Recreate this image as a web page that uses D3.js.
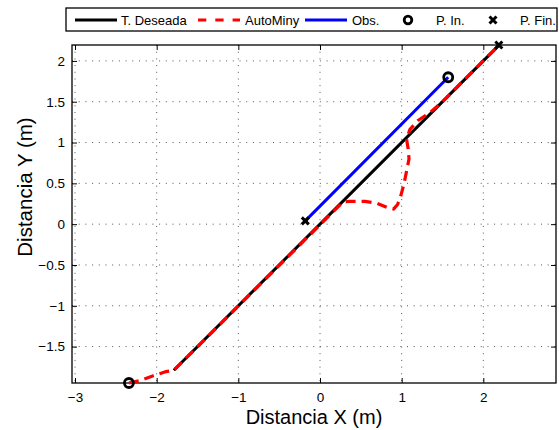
<!DOCTYPE html>
<html><head><meta charset="utf-8">
<script src="https://cdn.jsdelivr.net/npm/d3@7/dist/d3.min.js"></script>
<style>body{margin:0;background:#fff}svg{display:block;font-family:"Liberation Sans",Arial,sans-serif}</style>
</head><body><svg id="c" width="559" height="430"></svg>
<script>
// ---- data ----
const xTicks = [-3, -2, -1, 0, 1, 2];
const yTicks = [-1.5, -1, -0.5, 0, 0.5, 1, 1.5, 2];
const legendLabels = ["T. Deseada", "AutoMiny", "Obs.", "P. In.", "P. Fin."];
const desiredX = [-1.79, 2.19];
const desiredY = [-1.79, 2.19];
const obsX = [-0.18, 1.57];
const obsY = [0.04, 1.80];
const autoX = [-2.34,-2.22,-2.05,-1.90,-1.79,0.28,0.36,0.55,0.70,0.82,0.90,0.95,0.99,1.03,1.06,1.09,1.08,1.06,1.10,1.20,1.35,1.50,2.19];
const autoY = [-1.946,-1.92,-1.86,-1.81,-1.79,0.27,0.28,0.28,0.255,0.205,0.185,0.24,0.35,0.50,0.65,0.80,0.92,1.04,1.16,1.27,1.37,1.50,2.19];
const startPts = [[-2.34, -1.946], [1.57, 1.80]];
const endPts = [[2.19, 2.195], [-0.18, 0.04]];
const xDomain = [-3.037, 2.89];
const yDomain = [-1.946, 2.195];

// ---- layout ----
const L = 72, R = 556, T = 45, B = 383;
const svg = d3.select("#c");
const x = d3.scaleLinear().domain(xDomain).range([L, R]);
const y = d3.scaleLinear().domain(yDomain).range([B, T]);

// grid
const g = svg.append("g");
g.selectAll(".gx").data(xTicks).join("line")
  .attr("x1", d => x(d)).attr("x2", d => x(d)).attr("y1", T).attr("y2", B)
  .attr("stroke", "#555").attr("stroke-width", 1).attr("stroke-dasharray", "1,5.7");
g.selectAll(".gy").data(yTicks).join("line")
  .attr("y1", d => y(d)).attr("y2", d => y(d)).attr("x1", L).attr("x2", R)
  .attr("stroke", "#555").attr("stroke-width", 1).attr("stroke-dasharray", "1,5.7");

// axes (ticks inside)
const fmt = d3.format("");
const ax = svg.append("g").attr("transform", `translate(0,${B})`)
  .call(d3.axisBottom(x).tickValues(xTicks).tickFormat(fmt).tickSizeInner(-5).tickSizeOuter(0).tickPadding(9));
const axT = svg.append("g").attr("transform", `translate(0,${T})`)
  .call(d3.axisTop(x).tickValues(xTicks).tickFormat("").tickSizeInner(-5).tickSizeOuter(0));
const ay = svg.append("g").attr("transform", `translate(${L},0)`)
  .call(d3.axisLeft(y).tickValues(yTicks).tickFormat(fmt).tickSizeInner(-5).tickSizeOuter(0).tickPadding(7));
const ayR = svg.append("g").attr("transform", `translate(${R},0)`)
  .call(d3.axisRight(y).tickValues(yTicks).tickFormat("").tickSizeInner(-5).tickSizeOuter(0));
[ax, axT, ay, ayR].forEach(a => {
  a.select(".domain").remove();
  a.selectAll("text").attr("font-size", 13.5).attr("fill", "#000").attr("font-family", "Liberation Sans, Arial, sans-serif");
  a.selectAll("line").attr("stroke", "#000");
});
svg.append("rect").attr("x", L).attr("y", T).attr("width", R - L).attr("height", B - T)
  .attr("fill", "none").attr("stroke", "#000").attr("stroke-width", 1.3);

// lines
const line = d3.line().x(d => x(d[0])).y(d => y(d[1]));
const desired = desiredX.map((v, i) => [v, desiredY[i]]);
const obs = obsX.map((v, i) => [v, obsY[i]]);
const auto = autoX.map((v, i) => [v, autoY[i]]);
svg.append("path").attr("d", line(desired)).attr("fill", "none").attr("stroke", "#000").attr("stroke-width", 3);
svg.append("path").attr("d", line(obs)).attr("fill", "none").attr("stroke", "#0000ff").attr("stroke-width", 3);
svg.append("path").attr("d", line(auto)).attr("fill", "none").attr("stroke", "#ff0000").attr("stroke-width", 3.2)
  .attr("stroke-dasharray", "10,6").attr("stroke-linejoin", "round");

// markers
const circ = (sel, cx, cy) => sel.append("circle").attr("cx", cx).attr("cy", cy).attr("r", 4.5)
  .attr("fill", "none").attr("stroke", "#000").attr("stroke-width", 2.8);
const cross = (sel, cx, cy) => sel.append("path")
  .attr("d", `M${cx-3.5},${cy-3.5}L${cx+3.5},${cy+3.5}M${cx-3.5},${cy+3.5}L${cx+3.5},${cy-3.5}`)
  .attr("stroke", "#000").attr("stroke-width", 3);
startPts.forEach(p => circ(svg, x(p[0]), y(p[1])));
endPts.forEach(p => cross(svg, x(p[0]), y(p[1])));

// axis labels
svg.append("text").attr("x", (L + R) / 2).attr("y", 424).attr("text-anchor", "middle")
  .attr("font-size", 20).text("Distancia X (m)");
svg.append("text").attr("transform", `translate(32,187) rotate(-90)`).attr("text-anchor", "middle")
  .attr("font-size", 20.5).text("Distancia Y (m)");

// legend
const lg = svg.append("g");
lg.append("rect").attr("x", 66).attr("y", 8).attr("width", 491).attr("height", 23)
  .attr("fill", "#fff").attr("stroke", "#000").attr("stroke-width", 1.3);
const ly = 20;
lg.append("line").attr("x1", 75).attr("x2", 117).attr("y1", ly).attr("y2", ly).attr("stroke", "#000").attr("stroke-width", 2.8);
lg.append("line").attr("x1", 198).attr("x2", 240).attr("y1", ly).attr("y2", ly).attr("stroke", "#ff0000").attr("stroke-width", 2.8).attr("stroke-dasharray", "8.3,9");
lg.append("line").attr("x1", 305).attr("x2", 347).attr("y1", ly).attr("y2", ly).attr("stroke", "#0000ff").attr("stroke-width", 2.8);
circ(lg, 408, ly).attr("r", 3.8);
cross(lg, 493, ly);
const tx = [121, 245, 352, 436, 520];
lg.selectAll("text.l").data(legendLabels).join("text").attr("class", "l")
  .attr("x", (d, i) => tx[i]).attr("y", ly + 4.5).attr("font-size", 13).text(d => d);
</script></body></html>
